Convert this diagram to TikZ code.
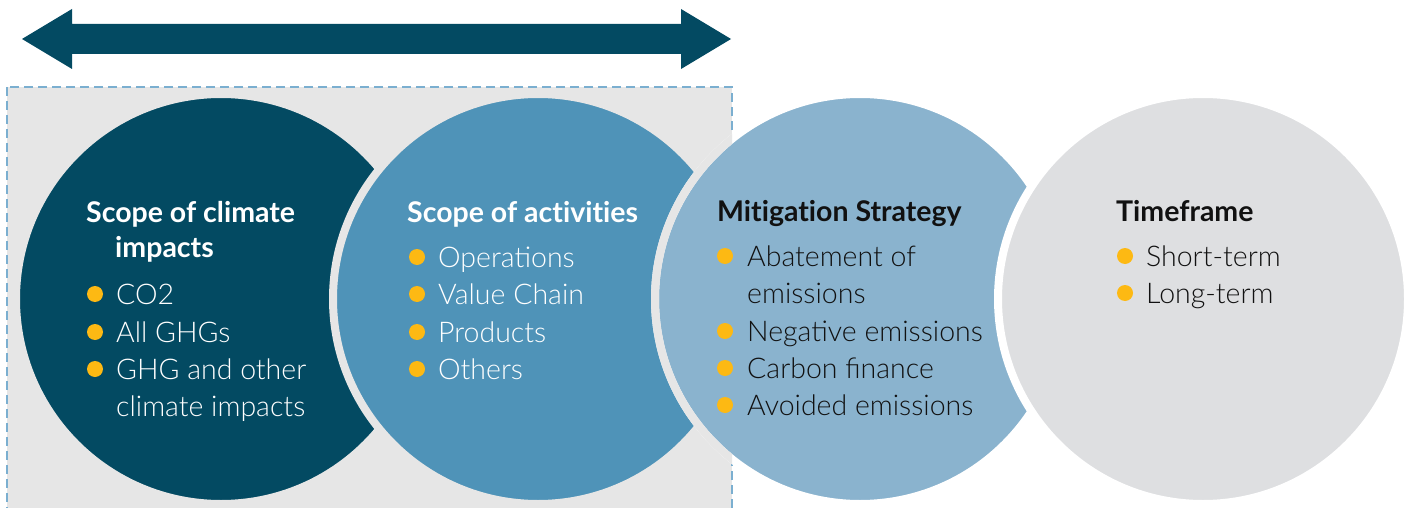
\documentclass[tikz,border=0pt]{standalone}
\usepackage{xcolor}
\usepackage{fontspec}
\setmainfont{Lato}[UprightFont=* Light, BoldFont=* Bold, BoldFeatures={Ligatures=NoCommon}]
\usepackage{tikz}
\definecolor{deepteal}{HTML}{034A62}
\definecolor{midblue}{HTML}{4F93B8}
\definecolor{paleblue}{HTML}{8AB3CE}
\definecolor{dashblue}{HTML}{7BAFD0}
\definecolor{softgrey}{HTML}{DEDFE1}
\definecolor{panelgrey}{HTML}{E6E6E6}
\definecolor{dotyellow}{HTML}{FDB913}
\definecolor{ink}{HTML}{111111}
\tikzset{
  disc/.style={circle, inner sep=0pt, minimum size=410pt, line width=8pt},
  head/.style={anchor=base west, inner sep=0pt, font=\fontsize{28.5}{34}\selectfont\bfseries},
  item/.style={anchor=base west, inner sep=0pt, font=\fontsize{28.5}{34}\selectfont},
  dot/.style={circle, fill=dotyellow, inner sep=0pt, minimum size=16pt}
}

\begin{document}
\begin{tikzpicture}[x=1pt, y=-1pt]
  \clip (0,0) rectangle (1408,508);

  % double arrow on top
  \fill[deepteal] (22,39) -- (72,9) -- (72,24) -- (681,24) -- (681,9) -- (731,39)
     -- (681,69) -- (681,54) -- (72,54) -- (72,69) -- cycle;

  % grey panel behind the first two circles
  \draw[fill=panelgrey, draw=dashblue, line width=1.8pt, dash pattern=on 9pt off 5pt] (7,87) rectangle (732,530);

  \node[disc, fill=deepteal, draw=panelgrey] (impacts) at (221,299) {};
  \node[disc, fill=midblue, draw=panelgrey] (activities) at (538,299) {};
  \node[disc, fill=paleblue, draw=white] (mitigation) at (860,299) {};
  \begin{scope}
    \clip (7,87) rectangle (732,530);
    \draw[panelgrey, line width=8pt] (mitigation.center) circle (205pt);
  \end{scope}
  \node[disc, fill=softgrey, draw=white] (timeframe) at (1203,299) {};

  % circle 1
  \begin{scope}[every node/.append style={text=white}]
  \node[head] (c1h1) at (86,222) {Scope of climate};
  \node[head] (c1h2) at (115,257) {impacts};
  \node[dot] (c1d1) at (95,294) {};
  \node[item] (c1i1) at (116,304) {CO2};
  \node[dot] (c1d2) at (95,332) {};
  \node[item] (c1i2) at (116,342) {All GHGs};
  \node[dot] (c1d3) at (95,369) {};
  \node[item] (c1i3) at (116,379) {GHG and other};
  \node[item] (c1i4) at (116,416) {climate impacts};

  % circle 2
  \node[head] (c2h) at (407,222) {Scope of activities};
  \node[dot] (c2d1) at (417,257) {};
  \node[item] (c2i1) at (438,267) {Operations};
  \node[dot] (c2d2) at (417,294) {};
  \node[item] (c2i2) at (438,304) {Value Chain};
  \node[dot] (c2d3) at (417,332) {};
  \node[item] (c2i3) at (438,342) {Products};
  \node[dot] (c2d4) at (417,369) {};
  \node[item] (c2i4) at (438,379) {Others};
  \end{scope}

  % circle 3
  \begin{scope}[every node/.append style={text=ink}]
  \node[head] (c3h) at (717,221) {Mitigation Strategy};
  \node[dot] (c3d1) at (725,256) {};
  \node[item] (c3i1) at (747,266) {Abatement of};
  \node[item] (c3i2) at (747,303) {emissions};
  \node[dot] (c3d2) at (725,331) {};
  \node[item] (c3i3) at (747,341) {Negative emissions};
  \node[dot] (c3d3) at (725,368) {};
  \node[item] (c3i4) at (747,378) {Carbon finance};
  \node[dot] (c3d4) at (725,405) {};
  \node[item] (c3i5) at (747,415) {Avoided emissions};

  % circle 4
  \node[head] (c4h) at (1116,221) {Timeframe};
  \node[dot] (c4d1) at (1125,256) {};
  \node[item] (c4i1) at (1146,266) {Short-term};
  \node[dot] (c4d2) at (1125,293) {};
  \node[item] (c4i2) at (1146,303) {Long-term};
  \end{scope}
\end{tikzpicture}
\end{document}
